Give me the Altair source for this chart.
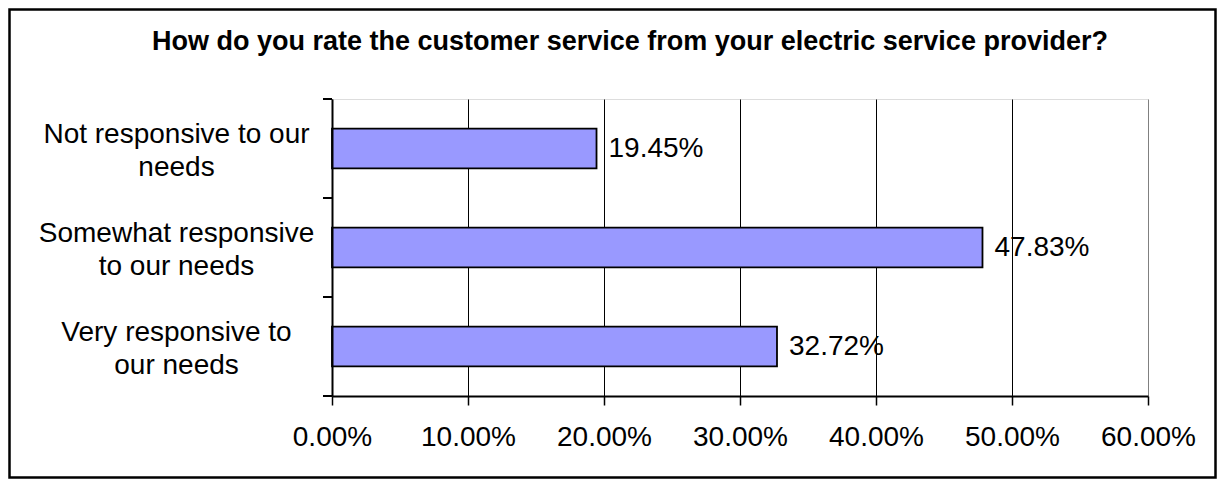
import altair as alt
import pandas as pd

# ---- data ----
categories = [
    "Not responsive to our|needs",
    "Somewhat responsive|to our needs",
    "Very responsive to|our needs",
]
values_pct = [19.45, 47.83, 32.72]
x_ticks = [0.0, 0.1, 0.2, 0.3, 0.4, 0.5, 0.6]
category_edges = [0, 1, 2, 3]

title_text = "How do you rate the customer service from your electric service provider?"

df = pd.DataFrame({"cat": categories, "val": [v / 100 for v in values_pct]})
edges_df = pd.DataFrame({"edge": category_edges})

FONT = "Liberation Sans"
W, H = 816, 297
PAD = {"left": 324, "top": 91, "right": 69, "bottom": 83}

y_scale = alt.Scale(paddingInner=0.6, paddingOuter=0.3)

y_enc = alt.Y(
    "cat:N",
    sort=categories,
    scale=y_scale,
    axis=alt.Axis(
        title=None,
        labelExpr="split(datum.label, '|')",
        labelAlign="center",
        labelBaseline="middle",
        labelPadding=156,
        labelOffset=-14,
        labelLineHeight=33,
        labelFontSize=28,
        labelFont=FONT,
        labelColor="black",
        labelOverlap=False,
        ticks=False,
        tickSize=0,
        domainColor="black",
        domainWidth=2,
        grid=False,
        labelLimit=400,
        zindex=1,
    ),
)

x_enc = alt.X(
    "val:Q",
    scale=alt.Scale(domain=[0, 0.6], nice=False),
    axis=alt.Axis(
        title=None,
        values=x_ticks,
        format=".2%",
        labelFontSize=28,
        labelFont=FONT,
        labelColor="black",
        labelPadding=18,
        labelOverlap=False,
        labelFlush=False,
        tickSize=9,
        tickColor="black",
        tickWidth=1.5,
        domainColor="black",
        domainWidth=2,
        grid=True,
        gridColor=alt.condition("datum.value >= 0.6", alt.value("#808080"), alt.value("black")),
        gridWidth=1,
        gridOpacity=1,
        zindex=0,
    ),
)

one_row = alt.Data(values=[{"k": 1}])

border = alt.Chart(one_row).mark_rect(
    fill="transparent", stroke="black", strokeWidth=2.5
).encode(
    x=alt.value(-PAD["left"] + 1.5),
    x2=alt.value(W + PAD["right"] - 1.5),
    y=alt.value(-PAD["top"] + 1.5),
    y2=alt.value(H + PAD["bottom"] - 1.5),
)

title = alt.Chart(one_row).mark_text(
    text=title_text, font=FONT, fontSize=27, fontWeight="bold", color="black",
    align="center", baseline="middle",
).encode(x=alt.value(298), y=alt.value(-57))

bars = alt.Chart(df).mark_bar(
    fill="#9999FF", stroke="black", strokeWidth=1.8
).encode(x=x_enc, y=y_enc)

labels = alt.Chart(df).mark_text(
    align="left", baseline="middle", dx=12, fontSize=28, font=FONT, color="black"
).encode(
    x=alt.X("val:Q"),
    y=alt.Y("cat:N", sort=categories, scale=y_scale),
    text=alt.Text("val:Q", format=".2%"),
)

inner = alt.layer(bars, labels)

ticks = alt.Chart(edges_df).mark_rule(color="black", strokeWidth=2).encode(
    y=alt.Y("edge:Q", scale=alt.Scale(domain=[0, 3], nice=False, zero=False), axis=None),
    x=alt.value(-9),
    x2=alt.value(0),
)

chart = alt.layer(border, title, inner, ticks).resolve_scale(y="independent").properties(
    width=W,
    height=H,
    padding=PAD,
    autosize=alt.AutoSizeParams(type="none"),
).configure_view(fill="#C0C0C0", stroke="#808080", strokeWidth=2).configure(background="white")

chart.save("out.html", embed_options={"renderer": "svg", "actions": False})
